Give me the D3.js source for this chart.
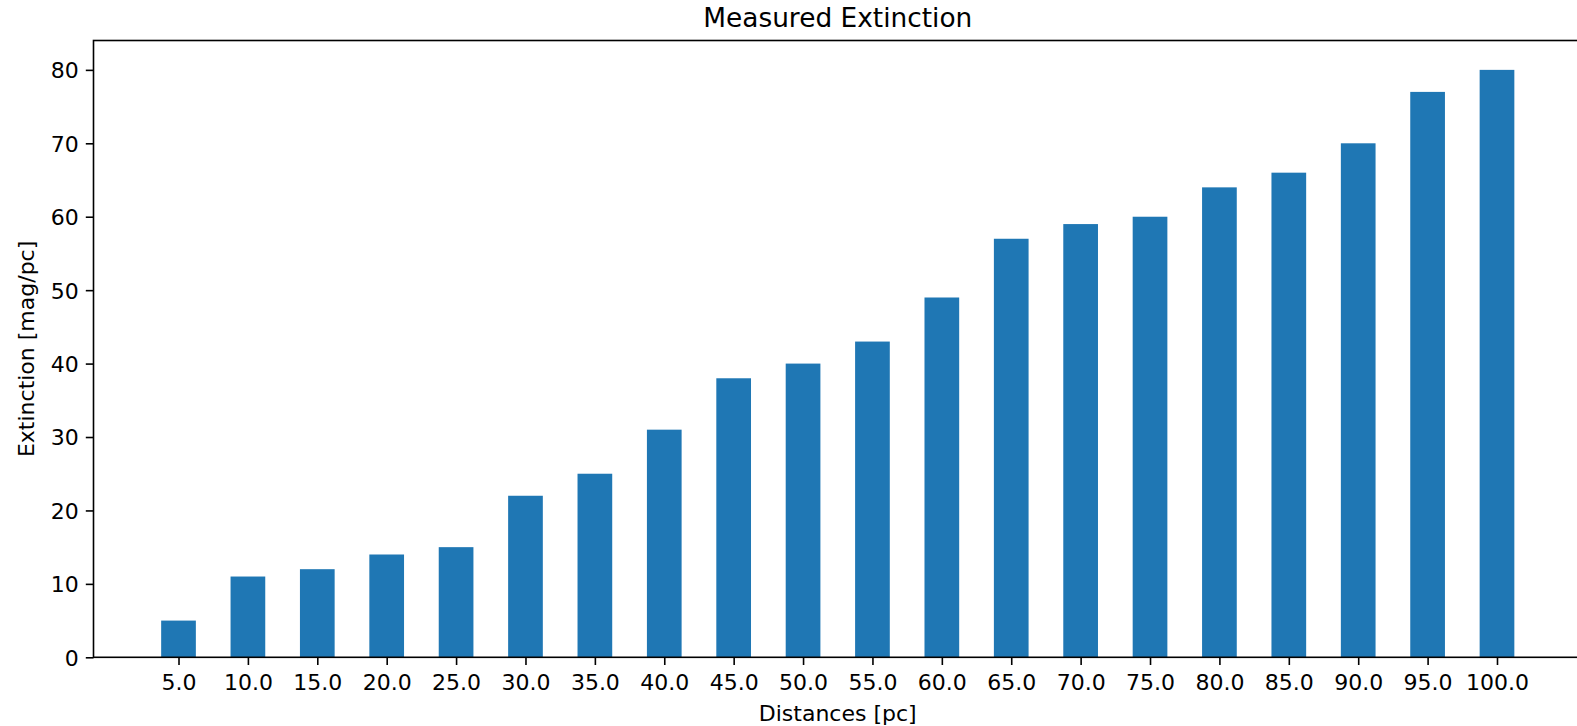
<!DOCTYPE html>
<html>
<head>
<meta charset="utf-8">
<script src="https://cdn.jsdelivr.net/npm/d3@7"></script>
<style>
  body { margin: 0; background: #ffffff; overflow: hidden; }
  svg { display: block; font-family: "DejaVu Sans", sans-serif; }
  .tick text { font-size: 22px; fill: #000; }
  .label { font-size: 22px; fill: #000; }
  .title { font-size: 26.4px; fill: #000; }
</style>
</head>
<body>
<div id="chart"></div>
<script>
// Title Measured extinction per distance bin
const distances = [5, 10, 15, 20, 25, 30, 35, 40, 45, 50, 55, 60, 65, 70, 75, 80, 85, 90, 95, 100];
const extinction = [5, 11, 12, 14, 15, 22, 25, 31, 38, 40, 43, 49, 57, 59, 60, 64, 66, 70, 77, 80];
const yTicks = [0, 10, 20, 30, 40, 50, 60, 70, 80];

const width = 1577;
const height = 726;
const plotLeft = 93.5;
const plotTop = 40.5;
const plotRight = 1582;   // right spine falls just outside the picture
const plotBottom = 657.3;
const barWidth = 2.5;
const tickLen = 7.7;

const svg = d3.select("#chart")
    .append("svg")
    .attr("width", width)
    .attr("height", height);

const xScale = d3.scaleLinear()
    .domain([-1.125, 106.125])
    .range([plotLeft, plotRight]);

const yScale = d3.scaleLinear()
    .domain([0, 84])
    .range([plotBottom, plotTop]);

// bars
svg.append("g")
    .selectAll("rect")
    .data(distances)
    .join("rect")
    .attr("x", d => xScale(d - barWidth / 2))
    .attr("width", d => xScale(barWidth) - xScale(0))
    .attr("y", (d, i) => yScale(extinction[i]))
    .attr("height", (d, i) => yScale(0) - yScale(extinction[i]))
    .attr("fill", "#1f77b4");

// axes
const xAxis = svg.append("g")
    .attr("transform", `translate(0,${plotBottom})`)
    .call(d3.axisBottom(xScale)
        .tickValues(distances)
        .tickFormat(d3.format(".1f"))
        .tickSize(tickLen)
        .tickSizeOuter(0)
        .tickPadding(9));

const yAxis = svg.append("g")
    .attr("transform", `translate(${plotLeft},0)`)
    .call(d3.axisLeft(yScale)
        .tickValues(yTicks)
        .tickSize(tickLen)
        .tickSizeOuter(0)
        .tickPadding(7));

[xAxis, yAxis].forEach(function(a) {
    a.select(".domain").remove();
    a.selectAll(".tick line").attr("stroke", "#000").attr("stroke-width", 1.6);
    a.selectAll(".tick text").attr("font-family", "DejaVu Sans");
});
yAxis.selectAll(".tick text").attr("dy", "0.36em");

// spines
svg.append("rect")
    .attr("x", plotLeft)
    .attr("y", plotTop)
    .attr("width", plotRight - plotLeft)
    .attr("height", plotBottom - plotTop)
    .attr("fill", "none")
    .attr("stroke", "#000")
    .attr("stroke-width", 1.6);

svg.append("text")
    .attr("class", "title")
    .attr("x", (plotLeft + plotRight) / 2)
    .attr("y", 27)
    .attr("text-anchor", "middle")
    .text("Measured Extinction");

svg.append("text")
    .attr("class", "label")
    .attr("x", (plotLeft + plotRight) / 2)
    .attr("y", 721)
    .attr("text-anchor", "middle")
    .text("Distances [pc]");

svg.append("text")
    .attr("class", "label")
    .attr("transform", `translate(33.5,${(plotTop + plotBottom) / 2}) rotate(-90)`)
    .attr("text-anchor", "middle")
    .text("Extinction [mag/pc]");
</script>
</body>
</html>
